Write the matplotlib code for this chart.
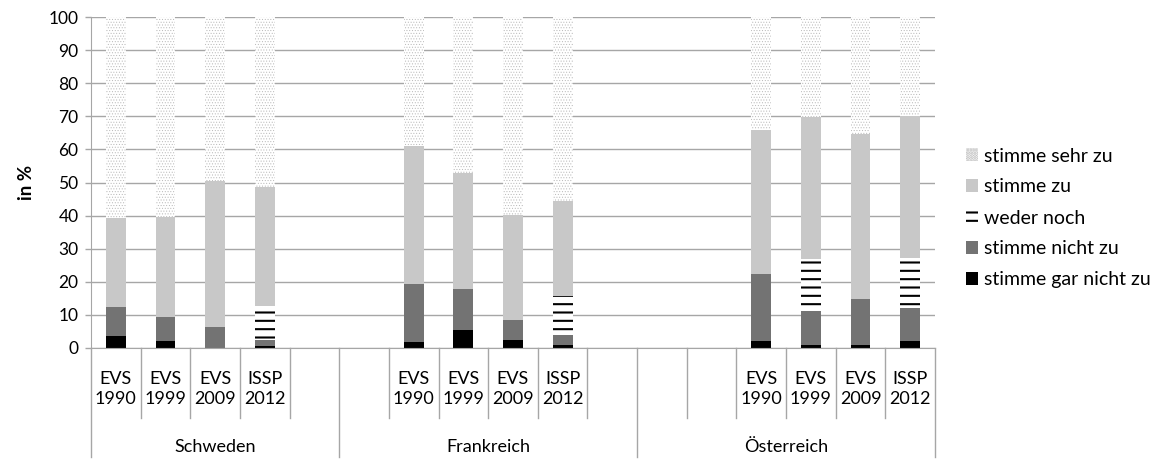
import matplotlib
matplotlib.use("Agg")
import matplotlib.pyplot as plt
from matplotlib.lines import Line2D
from matplotlib.patches import Patch

plt.rcParams['font.family'] = ['Lato', 'DejaVu Sans']

# Kategorien (leere Einträge = leere Slots im Original)
countries = ["Schweden", "Frankreich", "Österreich"]
slot_labels = [
    ["EVS\n1990", "EVS\n1999", "EVS\n2009", "ISSP\n2012", ""],
    ["", "EVS\n1990", "EVS\n1999", "EVS\n2009", "ISSP\n2012", ""],
    ["", "", "EVS\n1990", "EVS\n1999", "EVS\n2009", "ISSP\n2012"],
]

# Werte in % (Reihenfolge: Schweden 4x, Frankreich 4x, Österreich 4x)
gar_nicht = [3.7, 2.1, 0.0, 0.6, 1.7, 5.5, 2.3, 1.0, 2.0, 1.0, 1.0, 2.0]
nicht = [8.7, 7.3, 6.3, 1.7, 17.7, 12.3, 6.1, 2.8, 20.5, 10.1, 13.9, 10.1]
weder = [0.0, 0.0, 0.0, 10.5, 0.0, 0.0, 0.0, 11.8, 0.0, 15.8, 0.0, 15.1]
zu = [26.9, 30.1, 44.1, 35.7, 41.5, 35.1, 31.9, 28.7, 43.3, 42.9, 49.9, 42.8]
sehr = [60.7, 60.5, 49.6, 51.5, 39.1, 47.1, 59.7, 55.7, 34.2, 30.2, 35.2, 30.0]

series_names = ["stimme gar nicht zu", "stimme nicht zu", "weder noch",
                "stimme zu", "stimme sehr zu"]

fig = plt.figure(figsize=(11.71, 4.59), dpi=100)
ax = fig.add_axes([91 / 1171, 1 - 348 / 459, (935 - 91) / 1171, 331 / 459])

# Positionen der Balken aus den Slots ableiten
positions = []
group_bounds = [-0.5]
slot = 0
for labels in slot_labels:
    for lab in labels:
        if lab:
            positions.append(slot)
        slot += 1
    group_bounds.append(slot - 0.5)
n_slots = slot

grid_col = "#a6a6a6"
styles = [
    dict(color="black", hatch=None, hlw=1.0),
    dict(color="#737373", hatch=None, hlw=1.0),
    dict(color="white", hatch="--", edge="black", hlw=1.5),
    dict(color="#c8c8c8", hatch=None, hlw=1.0),
    dict(color="white", hatch="......", edge="#b8b8b8", hlw=0.4),
]
data = [gar_nicht, nicht, weder, zu, sehr]
bottom = [0.0] * len(positions)
for vals, st in zip(data, styles):
    with plt.rc_context({"hatch.linewidth": st["hlw"]}):
        bars = ax.bar(positions, vals, 0.4, bottom=bottom, color=st["color"],
                      hatch=st["hatch"], edgecolor=st.get("edge", st["color"]),
                      linewidth=0)
    for b in bars:
        if hasattr(b, "set_hatch_linewidth"):
            b.set_hatch_linewidth(st["hlw"])
    bottom = [b0 + v for b0, v in zip(bottom, vals)]

ax.set_xlim(-0.5, n_slots - 0.5)
ax.set_ylim(0, 100)
ax.set_yticks(range(0, 101, 10))
ax.yaxis.grid(True, color=grid_col, linewidth=1)
ax.set_axisbelow(True)
ax.set_xticks([])
for s in ["top", "right"]:
    ax.spines[s].set_visible(False)
ax.spines["left"].set_color(grid_col)
ax.spines["bottom"].set_color(grid_col)
ax.tick_params(axis="y", colors=grid_col, length=4, width=1, labelsize=12.5,
               labelcolor="black", pad=5)
ax.set_ylabel("in %", fontsize=13.5, fontweight="bold", labelpad=10)

# Mehrstufige Kategorienachse
trans = ax.get_xaxis_transform()
slot = 0
for labels in slot_labels:
    for lab in labels:
        if lab:
            ax.text(slot, -0.07, lab, transform=trans, ha="center", va="top",
                    fontsize=13, linespacing=1.3)
        slot += 1
for i in range(n_slots + 1):
    xb = i - 0.5
    y_end = -0.33 if xb in group_bounds else -0.21
    ax.add_line(Line2D([xb, xb], [0, y_end], transform=trans,
                       color=grid_col, lw=1, clip_on=False))
for name, g0, g1 in zip(countries, group_bounds[:-1], group_bounds[1:]):
    ax.text((g0 + g1) / 2, -0.298, name, transform=trans, ha="center",
            va="center", fontsize=13)

# Legende
handles = []
for name, st in zip(series_names, styles):
    handles.append(Patch(facecolor=st["color"], hatch=st["hatch"],
                         edgecolor=st.get("edge", st["color"]), linewidth=0,
                         label=name))
handles = handles[::-1]
with plt.rc_context({"hatch.linewidth": 1.5}):
    leg = fig.legend(handles=handles, loc="center left",
                     bbox_to_anchor=(966 / 1171, 1 - 218 / 459),
                     frameon=False, fontsize=14, handlelength=0.6,
                     handleheight=0.6, handletextpad=0.3, labelspacing=0.72,
                     borderpad=0, borderaxespad=0)

fig.savefig("out.png", dpi=100)
